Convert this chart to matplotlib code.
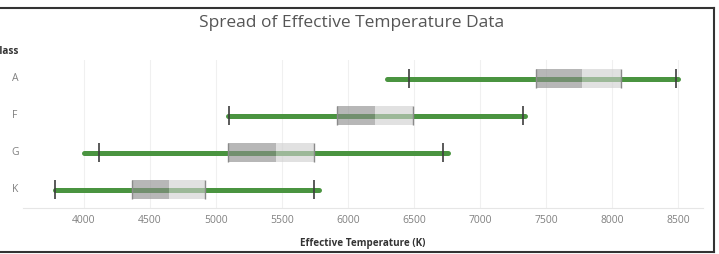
import matplotlib.pyplot as plt
from matplotlib.lines import Line2D

# box plot summary per spectral class
classes = ["A", "F", "G", "K"]
t_min = [6295, 5090, 4000, 3780]
whisk_lo = [6462, 5098, 4114, 3780]
q1 = [7424, 5917, 5091, 4364]
median = [7773, 6205, 5455, 4644]
q3 = [8068, 6492, 5742, 4917]
whisk_hi = [8485, 7326, 6720, 5742]
t_max = [8500, 7340, 6758, 5780]
ticks = [4000, 4500, 5000, 5500, 6000, 6500, 7000, 7500, 8000, 8500]

plt.rcParams["font.family"] = ["Open Sans", "DejaVu Sans"]

fig = plt.figure(figsize=(7.19, 2.54), dpi=100)
ax = fig.add_axes([23 / 719, 1 - 208 / 254, 680 / 719, 148 / 254])

rows = list(range(len(classes)))
box_h = 0.49

for i in rows:
    y = i
    ax.hlines(y, t_min[i], t_max[i], color="#4a9440", linewidth=3.6,
              capstyle="round", zorder=2)
    ax.barh(y, median[i] - q1[i], left=q1[i], height=box_h,
            color="#8c8c8c", alpha=0.62, edgecolor="none", zorder=3)
    ax.barh(y, q3[i] - median[i], left=median[i], height=box_h,
            color="#cfcfcf", alpha=0.62, edgecolor="none", zorder=3)
    ax.vlines([q1[i], q3[i]], y - box_h / 2, y + box_h / 2,
              color="#8a8a8a", linewidth=1.0, zorder=4)
    ax.vlines([whisk_lo[i], whisk_hi[i]], y - 0.26, y + 0.26,
              color="#3d3d3d", linewidth=1.2, zorder=5)

ax.set_xlim(3538, 8689)
ax.set_ylim(len(classes) - 0.5, -0.5)
ax.set_xticks(ticks)
ax.set_xticklabels([str(t) for t in ticks], color="#808080", fontsize=7.5)
ax.set_yticks([])
ax.tick_params(axis="x", length=0, pad=5)
for x in ticks:
    ax.axvline(x, color="#f0f0f0", linewidth=0.8, zorder=0)
for side in ["top", "right", "left"]:
    ax.spines[side].set_visible(False)
ax.spines["bottom"].set_color("#e6e6e6")
ax.set_xlabel("Effective Temperature (K)", fontsize=7.1, fontweight="bold",
              color="#333333", labelpad=9)

for i, c in enumerate(classes):
    fig.text(15 / 719, 1 - (78.5 + i * 37) / 254, c, ha="center", va="center",
             fontsize=7.5, color="#808080")
fig.text(-7 / 719, 1 - 52 / 254, "Class", ha="left", va="center",
         fontsize=7.2, fontweight="bold", color="#333333")

fig.text(352 / 719, 1 - 23 / 254, "Spread of Effective Temperature Data",
         ha="center", va="center", fontsize=12.5, color="#555555")

# outer frame of the dashboard
fig.add_artist(Line2D([0, 714 / 719], [1 - 8 / 254, 1 - 8 / 254],
                      transform=fig.transFigure, color="#333333", linewidth=1.5))
fig.add_artist(Line2D([714 / 719, 714 / 719], [1 - 8 / 254, 1 - 252 / 254],
                      transform=fig.transFigure, color="#333333", linewidth=1.5))
fig.add_artist(Line2D([0, 714 / 719], [1 - 252 / 254, 1 - 252 / 254],
                      transform=fig.transFigure, color="#333333", linewidth=1.5))

fig.savefig("out.png", dpi=100)
